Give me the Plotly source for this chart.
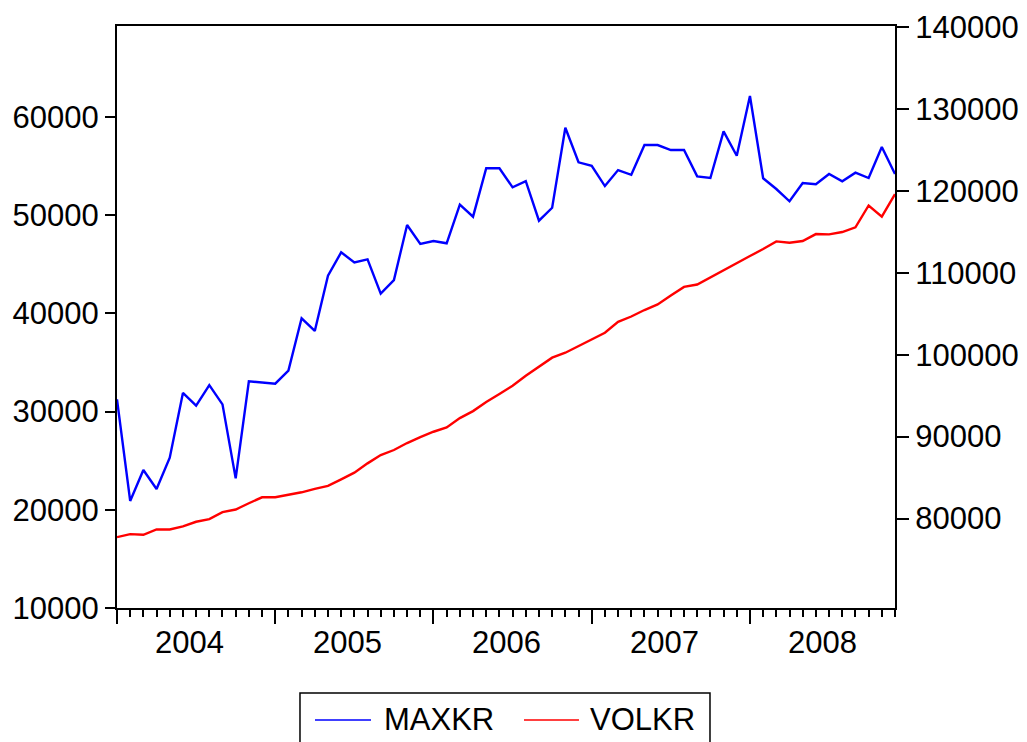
import plotly.graph_objects as go

months = [f"{y}M{m:02d}" for y in range(2004, 2009) for m in range(1, 13)]
years = ["2004", "2005", "2006", "2007", "2008"]

maxkr = [31250, 20900, 24050, 22120, 25300, 31900, 30600, 32700, 30740, 23200,
         33090, 32980, 32840, 34170, 39500, 38210, 43840, 46220, 45200, 45510,
         42010, 43400, 49000, 47070, 47370, 47140, 51070, 49850, 54780, 54780,
         52840, 53480, 49440, 50760, 58910, 55390, 55040, 52970, 54600, 54120,
         57150, 57150, 56640, 56640, 53960, 53790, 58540, 56060, 62140, 53760,
         52670, 51420, 53280, 53150, 54200, 53450, 54330, 53790, 56950, 54200]

volkr = [77720, 78090, 78010, 78660, 78660, 79030, 79600, 79920, 80770, 81100,
         81860, 82590, 82590, 82880, 83200, 83610, 83980, 84780, 85600, 86730,
         87750, 88360, 89210, 89940, 90590, 91110, 92260, 93110, 94210, 95190,
         96200, 97420, 98520, 99630, 100240, 101050, 101870, 102670, 104010, 104660,
         105450, 106130, 107220, 108270, 108560, 109450, 110340, 111150, 112040, 112890,
         113830, 113670, 113870, 114720, 114680, 114970, 115540, 118210, 116840, 119590]

left_ticks = [10000, 20000, 30000, 40000, 50000, 60000]
right_ticks = [80000, 90000, 100000, 110000, 120000, 130000, 140000]
series_names = ["MAXKR", "VOLKR"]
series_colors = ["#0000ff", "#ff0000"]

xi = list(range(len(months)))
FONT = "Liberation Sans, Arial, sans-serif"
FS = 31

fig = go.Figure()
fig.add_trace(go.Scatter(x=xi, y=maxkr, name=series_names[0], mode="lines",
                         line=dict(color=series_colors[0], width=2.4), customdata=months))
fig.add_trace(go.Scatter(x=xi, y=volkr, name=series_names[1], mode="lines",
                         line=dict(color=series_colors[1], width=2.4), yaxis="y2",
                         customdata=months))

year_starts = [12 * k for k in range(len(years))]
for k, yr in enumerate(years):
    fig.add_annotation(x=year_starts[k] + 5.5, y=-0.06, xref="x", yref="paper",
                       text=yr, showarrow=False, yanchor="middle",
                       font=dict(size=FS, color="black", family=FONT))

# legend box drawn by hand (EViews style, runs off the bottom edge)
fig.add_shape(type="rect", xref="paper", yref="paper",
              x0=0.2352, x1=0.7622, y0=-0.30, y1=-0.146,
              line=dict(color="black", width=1.5), fillcolor="white", layer="above")
leg_line_x = [(0.2545, 0.3265), (0.5231, 0.5938)]
leg_text_x = [0.3400, 0.6060]
for k in range(2):
    fig.add_shape(type="line", xref="paper", yref="paper",
                  x0=leg_line_x[k][0], x1=leg_line_x[k][1], y0=-0.1924, y1=-0.1924,
                  line=dict(color=series_colors[k], width=1.6), layer="above")
    fig.add_annotation(x=leg_text_x[k], y=-0.1924, xref="paper", yref="paper",
                       text=series_names[k], showarrow=False, xanchor="left",
                       yanchor="middle", font=dict(size=FS, color="black", family=FONT))

fig.update_layout(
    width=1019, height=734,
    margin=dict(l=109, r=132, t=18, b=134, autoexpand=False),
    paper_bgcolor="white", plot_bgcolor="white",
    font=dict(family=FONT, size=FS, color="black"),
    showlegend=False,
    xaxis=dict(range=[0, 59], showgrid=False, zeroline=False, automargin=False,
               showline=True, linecolor="black", linewidth=2, mirror=True,
               tickmode="array", tickvals=year_starts, ticktext=[""] * len(years),
               ticks="outside", ticklen=14, tickwidth=2, tickcolor="black",
               minor=dict(dtick=1, tick0=0, ticks="outside", ticklen=7,
                          tickwidth=1.6, tickcolor="black", showgrid=False)),
    yaxis=dict(range=[10000, 69270], showgrid=False, zeroline=False, automargin=False,
               showline=True, linecolor="black", linewidth=2,
               tickmode="array", tickvals=left_ticks,
               ticktext=[str(v) for v in left_ticks],
               ticks="outside", ticklen=10, tickwidth=2, tickcolor="black",
               tickfont=dict(size=FS, family=FONT, color="black")),
    yaxis2=dict(range=[69075, 140120], overlaying="y", side="right", automargin=False,
                showgrid=False, zeroline=False,
                showline=True, linecolor="black", linewidth=2,
                tickmode="array", tickvals=right_ticks,
                ticktext=[str(v) for v in right_ticks],
                ticks="outside", ticklen=12, tickwidth=2, tickcolor="black",
                tickfont=dict(size=FS, family=FONT, color="black")),
)

fig.write_html("out.html")
